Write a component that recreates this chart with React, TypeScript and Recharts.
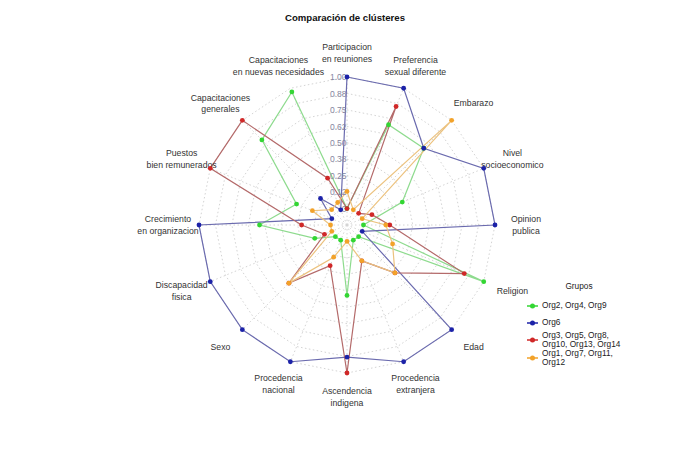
import { RadarChart, Radar, PolarGrid, PolarAngleAxis, PolarRadiusAxis, Legend } from "recharts";

const categories = [
  "Participacion\nen reuniones",
  "Preferencia\nsexual diferente",
  "Embarazo",
  "Nivel\nsocioeconomico",
  "Opinion\npublica",
  "Religion",
  "Edad",
  "Procedencia\nextranjera",
  "Ascendencia\nindigena",
  "Procedencia\nnacional",
  "Sexo",
  "Discapacidad\nfisica",
  "Crecimiento\nen organizacion",
  "Puestos\nbien remunerados",
  "Capacitaciones\ngenerales",
  "Capacitaciones\nen nuevas necesidades",
];

const grupoVerde = [0, 0.7, 0.7, 0.33, 0, 1, 0, 0, 0.41, 0, 0, 0.14, 0.54, 0.29, 0.79, 0.97];
const grupoAzul = [1, 1, 0.7, 1, 1, 0, 1, 1, 0.88, 1, 1, 1, 1, 0, 0.16, 0];
const grupoRojo = [0, 0.85, 0, 0.08, 0.2, 0.84, 0.39, 0.17, 1, 0.21, 0.5, 0.06, 0.22, 1, 1, 0.26];
const grupoNaranja = [0.13, 0, 1, 0, 0.17, 0.25, 0.39, 0.17, 0, 0.14, 0.5, 0, 0, 0.16, 0.04, 0.06];

const groupNames = [
  "Org2, Org4, Org9",
  "Org6",
  "Org3, Org5, Org8, Org10, Org13, Org14",
  "Org1, Org7, Org11, Org12",
];

const radiusTicks = [0, 0.125, 0.25, 0.375, 0.5, 0.625, 0.75, 0.875, 1];
const radiusTickLabels = ["0", "0.12", "0.25", "0.38", "0.50", "0.62", "0.75", "0.88", "1.00"];

const series = [
  { key: "verde", values: grupoVerde, line: "#8edb8e", dot: "#33d633" },
  { key: "azul", values: grupoAzul, line: "#6a6aae", dot: "#1c22a8" },
  { key: "rojo", values: grupoRojo, line: "#b46a6a", dot: "#d02828" },
  { key: "naranja", values: grupoNaranja, line: "#ecc27e", dot: "#f2a22a" },
];

const data = categories.map((category, i) => {
  const row: any = { category };
  series.forEach((s) => {
    row[s.key] = s.values[i];
  });
  return row;
});

const CX = 347;
const CY = 225;
const OUTER = 148;
const FONT = "'Liberation Sans', Arial, sans-serif";

// axis labels sit further out than recharts puts them
const AngleTick = (props: any) => {
  const { payload } = props;
  const rad = (payload.coordinate * Math.PI) / 180;
  const x = CX + Math.cos(rad) * 179;
  const y = CY - Math.sin(rad) * 172;
  const lines = String(payload.value).split("\n");
  const lh = 11.5;
  return (
    <text x={x} y={y} textAnchor="middle" fontSize={8.7} fill="#333" fontFamily={FONT}>
      {lines.map((l, i) => (
        <tspan key={i} x={x} dy={i === 0 ? -((lines.length - 1) * lh) / 2 + 3 : lh}>
          {l}
        </tspan>
      ))}
    </text>
  );
};

const RadiusTick = (props: any) => {
  const { x, y, payload } = props;
  const idx = radiusTicks.indexOf(payload.value);
  return (
    <text x={x - 0.5} y={y} dy={3.2} textAnchor="end" fontSize={8.5} fill="#8686a0" fontFamily={FONT}>
      {radiusTickLabels[idx]}
    </text>
  );
};

const renderLegend = () => (
  <div style={{ fontFamily: FONT, fontSize: 8.3, color: "#222" }}>
    <div style={{ textAlign: "center", width: 110, marginBottom: 6 }}>Grupos</div>
    {groupNames.map((name, i) => (
      <div key={name} style={{ display: "flex", alignItems: "center", minHeight: 17 }}>
        <svg width={18} height={8} style={{ flex: "none" }}>
          <line x1={3} y1={4} x2={14} y2={4} stroke={series[i].dot} strokeWidth={1.5} />
          <circle cx={8.5} cy={4} r={2.5} fill={series[i].dot} />
        </svg>
        <div style={{ width: 84, lineHeight: "9px" }}>{name}</div>
      </div>
    ))}
  </div>
);

export default function App() {
  return (
    <div style={{ position: "absolute", left: 0, top: 0, width: 675, height: 460, background: "#fff" }}>
      <div
        style={{
          position: "absolute",
          top: 12,
          left: 0,
          width: 690,
          textAlign: "center",
          fontFamily: FONT,
          fontWeight: "bold",
          fontSize: 9.6,
          color: "#111",
        }}
      >
        Comparación de clústeres
      </div>
      <RadarChart width={675} height={460} data={data} cx={CX} cy={CY} outerRadius={OUTER} startAngle={90} endAngle={-270}>
        <PolarGrid stroke="#d4d4d4" strokeDasharray="1.5 2.5" innerRadius={OUTER / 9} />
        <PolarAngleAxis dataKey="category" tick={AngleTick} axisLine={false} tickLine={false} />
        <PolarRadiusAxis
          type="number"
          angle={90}
          domain={[-0.125, 1]}
          ticks={radiusTicks}
          tick={RadiusTick}
          axisLine={false}
          tickLine={false}
        />
        {series.map((s, i) => (
          <Radar
            key={s.key}
            name={groupNames[i]}
            dataKey={s.key}
            stroke={s.line}
            strokeWidth={1.2}
            fill={s.line}
            fillOpacity={0}
            dot={{ r: 2.4, fill: s.dot, fillOpacity: 1, stroke: s.dot, strokeWidth: 0 }}
            isAnimationActive={false}
          />
        ))}
        <Legend content={renderLegend} wrapperStyle={{ left: 524, top: 281, width: 140 }} />
      </RadarChart>
    </div>
  );
}
